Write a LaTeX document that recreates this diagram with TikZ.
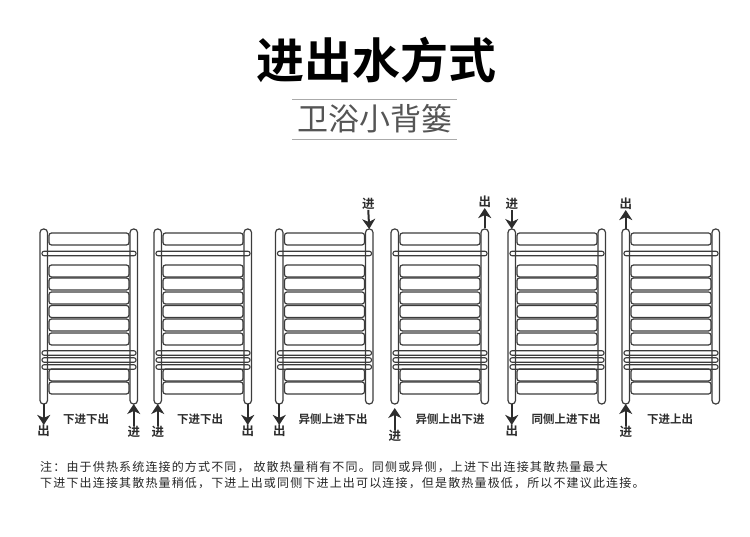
\documentclass[tikz,border=0pt]{standalone}
\usepackage{fontspec}
\usetikzlibrary{arrows.meta}
\newfontfamily\cjkreg{Noto Sans CJK SC}
\newfontfamily\cjkbold{Noto Sans CJK SC Bold}
\newfontfamily\cjknote[LetterSpace=9.7]{Noto Sans CJK SC}
\definecolor{RadDark}{RGB}{60,60,60}
\definecolor{ArrDark}{RGB}{45,45,45}
\definecolor{SubGray}{RGB}{85,85,85}
\definecolor{RuleGray}{RGB}{170,170,170}
\tikzset{
  rail/.style={draw=RadDark,line width=1.2pt,rounded corners=3.5pt,minimum width=7.5pt,minimum height=175pt,inner sep=0pt,outer sep=0pt},
  bar/.style={draw=RadDark,line width=1.2pt,rounded corners=2.5pt,minimum width=80pt,minimum height=12pt,inner sep=0pt,outer sep=0pt},
  thinbar/.style={draw=RadDark,line width=1.1pt,rounded corners=2pt,minimum width=94pt,minimum height=4.5pt,inner sep=0pt,outer sep=0pt},
  flow/.style={font=\cjkbold\fontsize{12.5}{13}\selectfont,text=ArrDark,inner sep=0pt},
  captext/.style={font=\cjkbold\fontsize{11.5}{12}\selectfont,text=ArrDark,inner sep=0pt},
  notetext/.style={font=\cjknote\fontsize{12}{13}\selectfont,text=black!85,anchor=west,inner sep=0pt},
  arr/.style={-{Stealth[length=10pt,width=13pt,inset=3pt]},ArrDark,line width=2pt},
}
\begin{document}
\begin{tikzpicture}[x=1pt,y=-1pt]
  \useasboundingbox (0,0) rectangle (750,537);
  \node[font=\cjkbold\fontsize{48}{50}\selectfont,inner sep=0pt] (title) at (376,60) {进出水方式};
  \node[font=\cjkreg\fontsize{31}{33}\selectfont,text=SubGray,inner sep=0pt] (sub) at (375,119) {卫浴小背篓};
  \coordinate (ruleAa) at (292,99);
  \coordinate (ruleAb) at (457,99);
  \coordinate (ruleBa) at (292,139);
  \coordinate (ruleBb) at (457,139);
  \draw[RuleGray,line width=0.8pt] (ruleAa)--(ruleAb);
  \draw[RuleGray,line width=0.8pt] (ruleBa)--(ruleBb);
  \foreach \id/\xr in {a/40,b/154,c/275.5,d/391,e/508,f/622}{
    \node[rail] (\id L) at (\xr+3.75,316.5) {};
    \node[rail] (\id R) at (\xr+93.75,316.5) {};
    \foreach \yb in {239,271,284,298,311.5,325,339,375,388}
      \node[bar] (\id bar\yb) at (\xr+49,\yb) {};
    \foreach \yb in {253.5,353,360,367}
      \node[thinbar] (\id thin\yb) at (\xr+49,\yb) {};
  }
  \node[flow] (oa) at (43.75,431) {出};
  \node[flow] (ia) at (133.75,432) {进};
  \node[flow] (ib) at (157.75,432) {进};
  \node[flow] (ob) at (247.75,431) {出};
  \node[flow] (oc) at (279.25,431) {出};
  \node[flow] (ic) at (368.25,204) {进};
  \node[flow] (id) at (394.75,436) {进};
  \node[flow] (od) at (484.75,202) {出};
  \node[flow] (ie) at (511.75,204) {进};
  \node[flow] (oe) at (511.75,431) {出};
  \node[flow] (if) at (625.75,432) {进};
  \node[flow] (of) at (625.75,204) {出};
  \draw[arr] (aL.south)--(oa.north);
  \draw[arr] (ia.north)--(aR.south);
  \draw[arr] (ib.north)--(bL.south);
  \draw[arr] (bR.south)--(ob.north);
  \draw[arr] (cL.south)--(oc.north);
  \draw[arr] (ic.south)--(cR.north);
  \draw[arr,shorten >=4pt] (id.north)--(dL.south);
  \draw[arr,shorten <=1pt] (dR.north)--(od.south);
  \draw[arr] (ie.south)--(eL.north);
  \draw[arr] (eL.south)--(oe.north);
  \draw[arr] (if.north)--(fL.south);
  \draw[arr] (fL.north)--(of.south);
  \node[captext] (capa) at (86,419) {下进下出};
  \node[captext] (capb) at (200,419) {下进下出};
  \node[captext] (capc) at (333,419) {异侧上进下出};
  \node[captext] (capd) at (450,419) {异侧上出下进};
  \node[captext] (cape) at (566,419) {同侧上进下出};
  \node[captext] (capf) at (670,419) {下进上出};
  \node[notetext] (notea) at (40,467) {注：由于供热系统连接的方式不同， 故散热量稍有不同。同侧或异侧，上进下出连接其散热量最大};
  \node[notetext] (noteb) at (40,483) {下进下出连接其散热量稍低，下进上出或同侧下进上出可以连接，但是散热量极低，所以不建议此连接。};
\end{tikzpicture}
\end{document}
